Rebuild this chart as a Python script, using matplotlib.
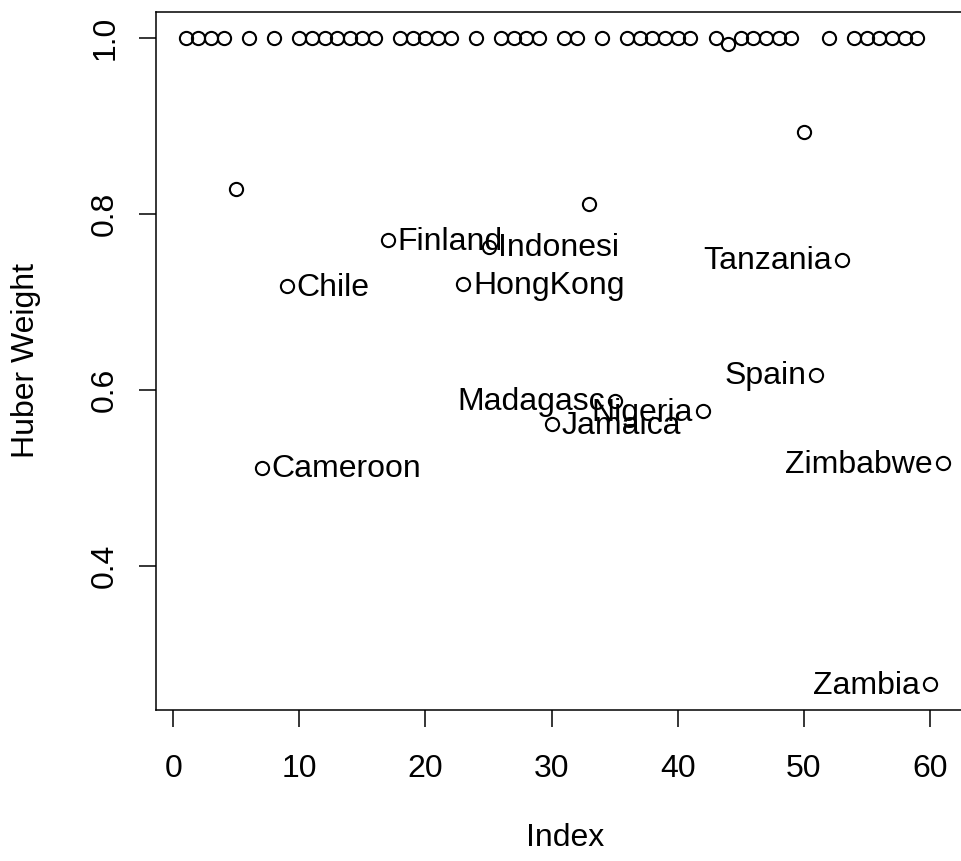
import matplotlib
matplotlib.use("Agg")
import matplotlib.pyplot as plt

# Huber weights by observation index (1..61)
weights = [1, 1, 1, 1, 0.828, 1, 0.512, 1, 0.718, 1,
           1, 1, 1, 1, 1, 1, 0.770, 1, 1, 1,
           1, 1, 0.720, 1, 0.763, 1, 1, 1, 1, 0.561,
           1, 1, 0.811, 1, 0.588, 1, 1, 1, 1, 1,
           1, 0.576, 1, 0.993, 1, 1, 1, 1, 1, 0.893,
           0.617, 1, 0.748, 1, 1, 1, 1, 1, 1, 0.266,
           0.517]
index = list(range(1, len(weights) + 1))

# labelled points: index, name, side
label_idx = [7, 9, 17, 23, 25, 30, 35, 42, 51, 53, 60, 61]
label_names = ["Cameroon", "Chile", "Finland", "HongKong", "Indonesi", "Jamaica",
               "Madagasc", "Nigeria", "Spain", "Tanzania", "Zambia", "Zimbabwe"]
label_side = ["right", "right", "right", "right", "right", "right",
              "left", "left", "left", "left", "left", "left"]

plt.rcParams["font.family"] = ["Liberation Sans", "DejaVu Sans"]
fs = 23

W, H = 961, 861
fig = plt.figure(figsize=(W / 100, H / 100), dpi=100)
ax = fig.add_axes([155.6 / W, (H - 710) / H, (972.8 - 155.6) / W, (710 - 12) / H])

ax.plot(index, weights, linestyle="none", marker="o", markersize=9.5,
        markerfacecolor="none", markeredgecolor="black", markeredgewidth=1.5)

for i, name, side in zip(label_idx, label_names, label_side):
    off = 7 if side == "right" else -7
    ax.annotate(name, (i, weights[i - 1]), xytext=(off, -1), textcoords="offset points",
                ha="left" if side == "right" else "right", va="center", fontsize=fs)

ax.set_xlim(-1.4, 63.4)
ax.set_ylim(0.2366, 1.0294)
ax.set_xticks([0, 10, 20, 30, 40, 50, 60])
ax.set_yticks([0.4, 0.6, 0.8, 1.0])
ax.set_yticklabels(["0.4", "0.6", "0.8", "1.0"], rotation=90, va="center")
ax.tick_params(axis="both", length=12.5, width=1.1, labelsize=fs)
ax.tick_params(axis="x", pad=19)
ax.tick_params(axis="y", pad=13)
for s in ax.spines.values():
    s.set_linewidth(1.1)

ax.set_xlabel("Index", fontsize=fs)
ax.set_ylabel("Huber Weight", fontsize=fs)
ax.xaxis.set_label_coords((565 - 155.6) / (972.8 - 155.6), -(838 - 710) / (710 - 12))
ax.xaxis.label.set_va("center")
ax.yaxis.set_label_coords((26 - 155.6) / (972.8 - 155.6), (710 - 361) / (710 - 12))
ax.yaxis.label.set_va("center")

fig.savefig("out.png", dpi=100)
